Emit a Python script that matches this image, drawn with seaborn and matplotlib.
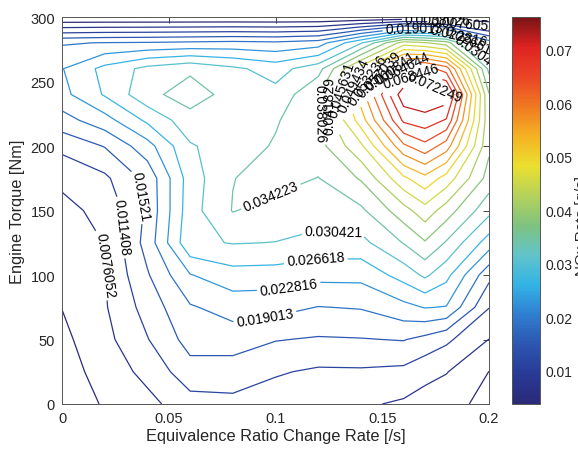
import numpy as np
import matplotlib
matplotlib.use("Agg")
import matplotlib.pyplot as plt
import seaborn as sns
from matplotlib.colors import Normalize
from matplotlib.cm import ScalarMappable

# ---------------- data ----------------
x_rate = [0.0, 0.02, 0.04, 0.06, 0.08, 0.10, 0.12, 0.14, 0.16, 0.17, 0.18, 0.20]
torque = [0, 25, 50, 75, 100, 125, 150, 175, 200, 220, 240, 260, 280, 300]

# emission rate in mg/s, one row per torque value (bottom to top)
nox_mg_s = [
    [1.33, 4.18, 6.46, 9.89, 10.46, 9.51, 8.75, 8.18, 7.03, 6.08, 5.13, 2.66],
    [2.09, 5.32, 8.75, 13.69, 13.31, 11.79, 10.84, 10.91, 10.46, 8.75, 7.80, 3.76],
    [2.85, 6.46, 11.22, 16.73, 17.11, 15.40, 14.83, 15.02, 15.40, 14.07, 12.17, 7.53],
    [3.88, 7.22, 12.93, 18.63, 20.53, 20.34, 18.90, 19.28, 21.67, 23.01, 22.63, 11.52],
    [4.94, 7.49, 14.83, 22.63, 25.10, 24.91, 23.96, 23.96, 28.14, 31.18, 27.76, 16.35],
    [5.89, 7.68, 16.73, 29.66, 30.61, 30.34, 29.28, 29.28, 34.41, 37.65, 33.84, 24.72],
    [6.84, 8.37, 15.97, 28.90, 34.41, 32.70, 32.13, 33.46, 40.31, 44.11, 39.93, 31.56],
    [8.18, 10.65, 16.35, 28.52, 34.11, 35.74, 34.11, 38.41, 48.67, 52.10, 47.91, 36.50],
    [12.55, 15.40, 21.29, 30.04, 32.32, 34.60, 36.50, 44.87, 60.08, 63.50, 58.94, 38.79],
    [17.49, 21.29, 27.38, 32.70, 32.70, 33.84, 37.27, 51.34, 69.21, 70.73, 68.07, 39.17],
    [21.67, 27.00, 33.08, 36.12, 32.70, 31.56, 37.65, 55.14, 74.91, 75.67, 74.91, 38.22],
    [22.63, 27.76, 31.56, 33.46, 31.18, 28.90, 32.70, 47.53, 65.40, 66.55, 62.74, 33.08],
    [18.63, 19.20, 19.39, 19.77, 20.15, 19.77, 20.91, 30.04, 43.73, 42.21, 39.93, 20.91],
    [0.0, 0.0, 0.0, 0.0, 0.0, 0.0, 0.0, 0.0, 0.0, 0.0, 0.0, 0.0],
]

level_labels = ["0.0038026", "0.0076052", "0.011408", "0.01521", "0.019013",
                "0.022816", "0.026618", "0.030421", "0.034223", "0.038026",
                "0.041829", "0.045631", "0.049434", "0.053236", "0.057039",
                "0.060841", "0.064644", "0.068446", "0.072249"]

# approximate label anchor points (data coords) for each level
label_spots = {
    "0.0038026": [(0.176, 298)],
    "0.0076052": [(0.0183, 108), (0.188, 296)],
    "0.011408": [(0.026, 137)],
    "0.01521": [(0.0323, 160)],
    "0.019013": [(0.095, 68), (0.165, 291)],
    "0.022816": [(0.106, 92), (0.186, 288)],
    "0.026618": [(0.1185, 116), (0.192, 281)],
    "0.030421": [(0.1274, 140), (0.196, 272)],
    "0.034223": [(0.098, 160)],
    "0.038026": [(0.124, 226)],
    "0.041829": [(0.129, 233)],
    "0.045631": [(0.1326, 242)],
    "0.049434": [(0.136, 248)],
    "0.053236": [(0.141, 254)],
    "0.057039": [(0.1466, 258)],
    "0.060841": [(0.151, 262)],
    "0.064644": [(0.1583, 265)],
    "0.068446": [(0.163, 262)],
    "0.072249": [(0.175, 251)],
}

cbar_ticks = [0.01, 0.02, 0.03, 0.04, 0.05, 0.06, 0.07]
x_ticks = [0, 0.05, 0.1, 0.15, 0.2]
x_tick_labels = ["0", "0.05", "0.1", "0.15", "0.2"]
y_ticks = [0, 50, 100, 150, 200, 250, 300]

# ---------------- style ----------------
sns.set_style("white")
plt.rcParams["font.family"] = ["Liberation Sans", "DejaVu Sans"]
text_col = "#262626"

cmap = sns.blend_palette(
    ["#2b2a78", "#283a97", "#2c56b0", "#2f7fd0", "#33b3e6", "#62c4c9",
     "#7ec27f", "#b5d25a", "#ebe02f", "#f5b224", "#f07a22", "#ea4526",
     "#df2321", "#7a1416"], as_cmap=True)
vmin, vmax = 0.0038026, 0.076052
norm = Normalize(vmin=vmin, vmax=vmax)

X, Y = np.meshgrid(np.array(x_rate), np.array(torque))
Z = np.array(nox_mg_s) / 1000.0

fig = plt.figure(figsize=(5.78, 4.52), dpi=100)
ax = fig.add_axes([0.1073, 0.104, 0.7388, 0.856])
ax.set_xlim(0, 0.2)
ax.set_ylim(0, 300)

for lab in level_labels:
    lev = float(lab)
    cs = ax.contour(X, Y, Z, levels=[lev], colors=[cmap(norm(lev))],
                    linewidths=0.9)
    cs.clabel(levels=[lev], manual=label_spots[lab], inline=True,
              inline_spacing=3, fontsize=10, colors="black",
              fmt={lev: lab})

ax.set_xlim(0, 0.2)
ax.set_ylim(0, 300)
ax.set_xticks(x_ticks)
ax.set_xticklabels(x_tick_labels)
ax.set_yticks(y_ticks)
ax.tick_params(direction="in", length=4, width=0.6, colors=text_col,
               labelsize=10.5, top=True, right=True, pad=5)
for s in ax.spines.values():
    s.set_color("#555555")
    s.set_linewidth(0.7)
ax.set_xlabel("Equivalence Ratio Change Rate [/s]", fontsize=11.8,
              color=text_col, labelpad=2)
ax.set_ylabel("Engine Torque [Nm]", fontsize=11.8, color=text_col, labelpad=4)

cax = fig.add_axes([0.8858, 0.104, 0.0485, 0.856])
cb = fig.colorbar(ScalarMappable(norm=norm, cmap=cmap), cax=cax)
cb.set_ticks(cbar_ticks)
cb.ax.tick_params(direction="in", length=3, width=0.6, colors=text_col,
                  labelsize=10, pad=4)
cb.outline.set_edgecolor("#555555")
cb.outline.set_linewidth(0.7)
fig.text(0.995, 0.50, "NOx Rate [g/s]", rotation=90, fontsize=11,
         color=text_col, ha="left", va="center")

fig.savefig("out.png", dpi=100)
